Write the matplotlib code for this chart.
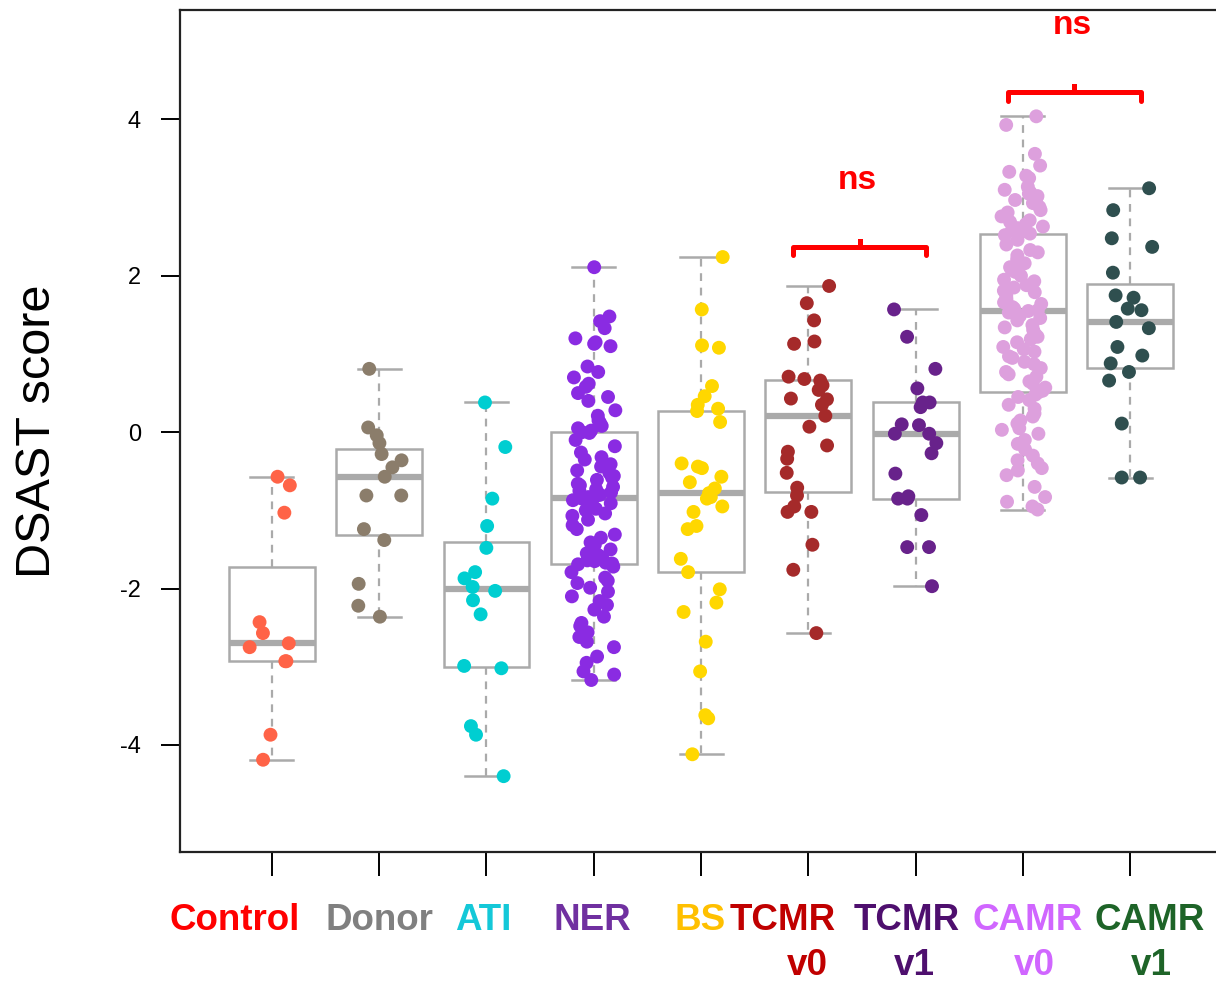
import numpy as np
import matplotlib
matplotlib.use("Agg")
import matplotlib.pyplot as plt

plt.rcParams['font.family'] = ['Liberation Sans', 'DejaVu Sans']

# groups, in plotting order
groups = ['Control', 'Donor', 'ATI', 'NER', 'BS', 'TCMR v0', 'TCMR v1', 'CAMR v0', 'CAMR v1']
label_line1 = ['Control', 'Donor', 'ATI', 'NER', 'BS', 'TCMR', 'TCMR', 'CAMR', 'CAMR']
label_line2 = ['', '', '', '', '', 'v0', 'v1', 'v0', 'v1']

# DSAST scores
control = [-0.57, -0.68, -1.03, -2.43, -2.57, -2.70, -2.75, -2.93, -2.93, -3.87, -4.19]
donor = [0.81, 0.06, -0.04, -0.14, -0.28, -0.36, -0.45, -0.57, -0.81, -0.81,
         -1.24, -1.38, -1.94, -2.22, -2.36]
ati = [0.38, -0.19, -0.85, -1.20, -1.48, -1.79, -1.87, -1.98, -2.03, -2.15,
       -2.33, -2.99, -3.02, -3.76, -3.87, -4.40]
ner = [2.11, 1.48, 1.42, 1.33, 1.20, 1.15, 1.13, 1.10, 0.84, 0.77, 0.70, 0.62,
       0.58, 0.50, 0.45, 0.40, 0.28, 0.21, 0.15, 0.12, 0.08, 0.05, 0.02, 0.00,
       -0.01, -0.10, -0.18, -0.26, -0.32, -0.35, -0.41, -0.44, -0.49, -0.52,
       -0.56, -0.58, -0.61, -0.66, -0.68, -0.70, -0.73, -0.75, -0.77, -0.80,
       -0.81, -0.83, -0.84, -0.85, -0.87, -0.91, -0.93, -0.98, -1.00, -1.04,
       -1.07, -1.12, -1.19, -1.24, -1.31, -1.35, -1.41, -1.44, -1.50, -1.55,
       -1.57, -1.60, -1.64, -1.65, -1.67, -1.68, -1.69, -1.72, -1.79, -1.86,
       -1.90, -1.93, -1.99, -2.04, -2.10, -2.16, -2.21, -2.27, -2.36, -2.44,
       -2.48, -2.56, -2.62, -2.68, -2.75, -2.87, -2.95, -3.06, -3.10, -3.17]
bs = [2.24, 1.57, 1.11, 1.08, 0.59, 0.46, 0.35, 0.30, 0.27, 0.13, -0.40, -0.44,
      -0.46, -0.57, -0.64, -0.72, -0.78, -0.83, -0.85, -0.95, -1.02, -1.20,
      -1.24, -1.62, -1.79, -2.01, -2.18, -2.30, -2.68, -3.06, -3.62, -3.66, -4.12]
tcmr_v0 = [1.87, 1.65, 1.43, 1.16, 1.13, 0.71, 0.68, 0.66, 0.60, 0.54, 0.43,
           0.42, 0.35, 0.21, 0.07, -0.17, -0.25, -0.34, -0.52, -0.71, -0.81,
           -0.95, -1.02, -1.02, -1.44, -1.76, -2.57]
tcmr_v1 = [1.57, 1.22, 0.81, 0.56, 0.38, 0.38, 0.32, 0.10, 0.09, -0.02, -0.02,
           -0.14, -0.27, -0.53, -0.82, -0.85, -0.85, -1.06, -1.47, -1.47, -1.97]
camr_v0 = [4.04, 3.93, 3.56, 3.41, 3.33, 3.28, 3.25, 3.14, 3.10, 3.07, 3.05,
           3.02, 3.00, 2.97, 2.93, 2.88, 2.84, 2.81, 2.76, 2.71, 2.69, 2.66,
           2.63, 2.61, 2.58, 2.56, 2.54, 2.52, 2.46, 2.40, 2.33, 2.30, 2.26,
           2.21, 2.16, 2.11, 2.08, 2.05, 2.00, 1.95, 1.93, 1.88, 1.85, 1.81,
           1.79, 1.75, 1.71, 1.69, 1.66, 1.64, 1.60, 1.58, 1.56, 1.55, 1.53,
           1.49, 1.46, 1.43, 1.37, 1.34, 1.31, 1.25, 1.22, 1.19, 1.15, 1.09,
           1.06, 1.03, 0.97, 0.95, 0.90, 0.87, 0.82, 0.77, 0.74, 0.71, 0.65,
           0.62, 0.57, 0.53, 0.51, 0.48, 0.45, 0.41, 0.35, 0.30, 0.24, 0.20,
           0.15, 0.11, 0.05, 0.03, -0.02, -0.10, -0.15, -0.22, -0.30, -0.36,
           -0.40, -0.46, -0.49, -0.55, -0.70, -0.83, -0.89, -0.95, -0.99]
camr_v1 = [3.12, 2.84, 2.48, 2.37, 2.04, 1.75, 1.72, 1.58, 1.56, 1.41, 1.33,
           1.09, 0.98, 0.88, 0.77, 0.66, 0.11, -0.58, -0.58]
scores = [control, donor, ati, ner, bs, tcmr_v0, tcmr_v1, camr_v0, camr_v1]

point_colors = ['#FF6347', '#8B7D6B', '#00CED1', '#8A2BE2', '#FFD700',
                '#A52A2A', '#68228B', '#DDA0DD', '#2F4F4F']
label_colors = ['#FF0000', '#808080', '#14C8D8', '#7030A0', '#FFC000',
                '#C00000', '#4E0F6E', '#D066FF', '#1E6428']

# comparisons shown with brackets
comparisons = [(6, 7), (8, 9)]
comp_text = ['ns', 'ns']

fig = plt.figure(figsize=(12.16, 9.81), dpi=100)
ax = fig.add_axes([180 / 1216, 129 / 981, 1 - 180 / 1216, 842 / 981])

pos = np.arange(1, len(groups) + 1)
grey = '#AAAAAA'
ax.boxplot(scores, positions=pos, widths=0.8, patch_artist=True,
           showfliers=False, capwidths=0.4,
           boxprops=dict(facecolor='white', edgecolor=grey, linewidth=1.8),
           medianprops=dict(color=grey, linewidth=4.5, solid_capstyle='butt'),
           whiskerprops=dict(color=grey, linewidth=1.6, linestyle=(0, (3.5, 3))),
           capprops=dict(color=grey, linewidth=1.8), zorder=1)

rng = np.random.default_rng(7)
for i, vals in enumerate(scores):
    jit = rng.uniform(-0.21, 0.21, len(vals))
    ax.scatter(pos[i] + jit, vals, s=100, color=point_colors[i],
               edgecolors='none', zorder=3)

ax.set_xlim(0.143, 9.80)
ax.set_ylim(-5.37, 5.40)
ax.set_yticks([-4, -2, 0, 2, 4])
ax.set_yticklabels(['-4', '-2', '0', '2', '4'])
ax.set_xticks(pos)
ax.set_xticklabels([''] * len(groups))
ax.tick_params(axis='y', length=14, width=1.4, labelsize=17, pad=14)
ax.tick_params(axis='x', length=17, width=1.4)
for s in ['left', 'bottom', 'top']:
    ax.spines[s].set_linewidth(1.6)
    ax.spines[s].set_color('#222222')
ax.spines['right'].set_visible(False)

# category labels under the axis (two lines for the rejection groups)
shift1 = [-0.35, 0.0, -0.03, -0.01, -0.01, -0.24, -0.08, 0.04, 0.18]
shift2 = [0, 0, 0, 0, 0, -0.01, -0.01, 0.11, 0.20]
tr = ax.get_xaxis_transform()
for i in range(len(groups)):
    ax.text(pos[i] + shift1[i], -0.0926, label_line1[i], transform=tr,
            ha='center', va='baseline', fontsize=26.5, fontweight='bold',
            color=label_colors[i], clip_on=False)
    if label_line2[i]:
        ax.text(pos[i] + shift2[i], -0.146, label_line2[i], transform=tr,
                ha='center', va='baseline', fontsize=26.5, fontweight='bold',
                color=label_colors[i], clip_on=False)

fig.text(38 / 1216, 0.56, 'DSAST score', rotation=90, ha='center',
         va='center', fontsize=35)

# significance brackets
bracket_y = [2.37, 4.35]
for (a, b), t, y in zip(comparisons, comp_text, bracket_y):
    x1, x2 = a - 0.14, b + 0.1
    xm = (x1 + x2) / 2
    ax.plot([x1, x1, x2, x2], [y - 0.11, y, y, y - 0.11], color='#FF0000',
            lw=3.6, solid_joinstyle='round', solid_capstyle='round', zorder=4)
    ax.plot([xm, xm], [y, y + 0.08], color='#FF0000', lw=3.6, zorder=4)
    ax.text(xm - 0.02, y + 0.85, t, ha='center', va='center', fontsize=24,
            fontweight='bold', color='#FF0000')

fig.savefig('out.png', dpi=100, facecolor='white')
